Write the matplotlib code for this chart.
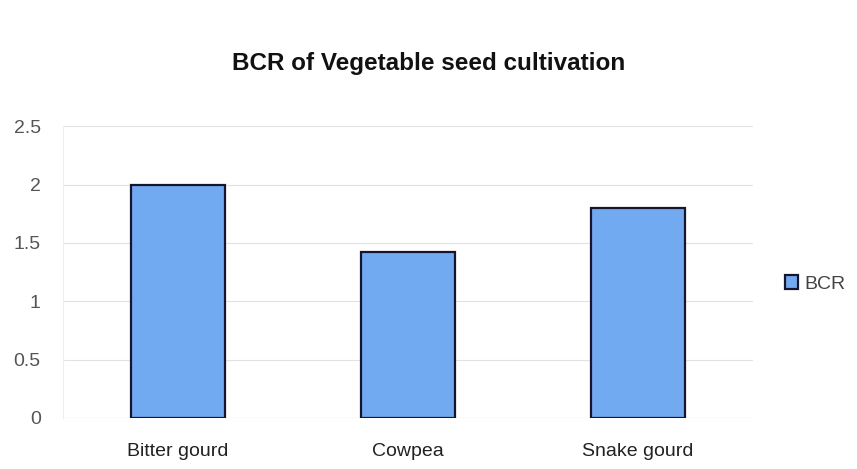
import matplotlib

matplotlib.use("Agg", force=True)
import matplotlib.pyplot as plt

plt.rcParams["font.family"] = ["Liberation Sans", "DejaVu Sans"]

categories = ["Bitter gourd", "Cowpea", "Snake gourd"]
bcr = [2.0, 1.42, 1.80]
yticks = [0, 0.5, 1, 1.5, 2, 2.5]

fig = plt.figure(figsize=(8.57, 4.69), dpi=100)
ax = fig.add_axes([0.0735, 0.109, 0.805, 0.622])

x = list(range(len(categories)))
ax.bar(x, bcr, width=0.41, color="#72aaf2", edgecolor="#15152e", linewidth=1.6,
       label="BCR", zorder=3)

ax.set_xlim(-0.5, len(categories) - 0.5)
ax.set_ylim(0, 2.5)
ax.set_yticks(yticks)
ax.set_yticklabels([str(t) for t in yticks], color="#555555", fontsize=14)
ax.set_xticks(x)
ax.set_xticklabels(categories, fontsize=14, color="#222222")
ax.tick_params(axis="y", length=0, pad=16)
ax.tick_params(axis="x", length=0, pad=18)
ax.grid(axis="y", color="#e2e2e2", linewidth=0.8, zorder=0)
for s in ["top", "right", "bottom"]:
    ax.spines[s].set_visible(False)
ax.spines["left"].set_color("#eeeeee")
ax.axhline(0, color="#cccccc", linewidth=0.8, zorder=1)

fig.suptitle("BCR of Vegetable seed cultivation", x=0.5, y=0.89,
             fontsize=17.5, fontweight="bold", color="#111111")

fig.legend(loc="center left", bbox_to_anchor=(0.895, 0.395), frameon=False,
           fontsize=14, handlelength=0.7, handleheight=0.7, handletextpad=0.3,
           labelcolor="#444444")

fig.savefig("out.png", dpi=100)
